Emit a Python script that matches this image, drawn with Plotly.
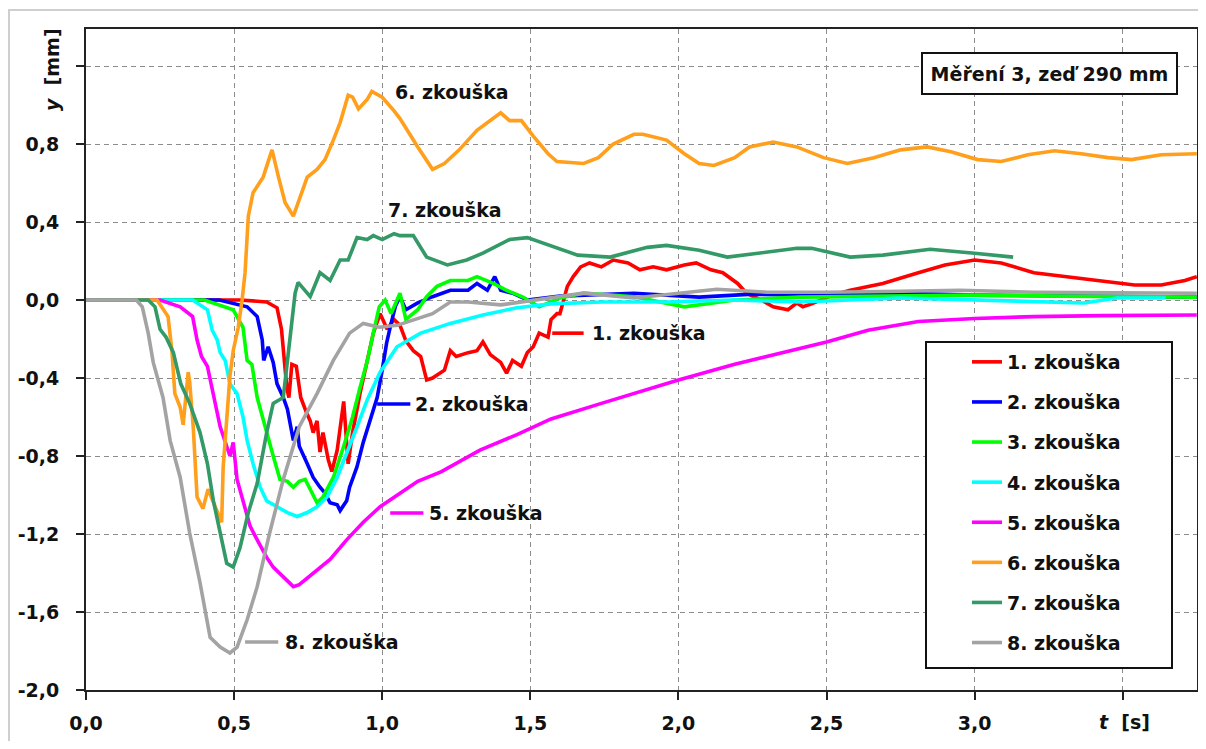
import plotly.graph_objects as go

# ---------------- data ----------------
names = ["1. zkouška", "2. zkouška", "3. zkouška", "4. zkouška",
         "5. zkouška", "6. zkouška", "7. zkouška", "8. zkouška"]
colors = ["#FF0000", "#0000FF", "#00FF00", "#00FFFF",
          "#FF00FF", "#FF9F1C", "#339966", "#A3A3A3"]

t1 = [0, 0.3, 0.52, 0.61, 0.645, 0.66, 0.668, 0.678, 0.685, 0.695, 0.71, 0.725, 0.745, 0.757, 0.767, 0.78,
      0.79, 0.80, 0.818, 0.83, 0.848, 0.87, 0.885, 0.90, 0.925, 0.95, 0.97, 0.993, 1.017, 1.04, 1.06, 1.08,
      1.105, 1.13, 1.15, 1.17, 1.21, 1.23, 1.25, 1.29, 1.32, 1.34, 1.365, 1.40, 1.42, 1.44, 1.47, 1.49, 1.51,
      1.53, 1.56, 1.57, 1.59, 1.60, 1.625, 1.645, 1.67, 1.70, 1.74, 1.78, 1.83, 1.87, 1.915, 1.96, 2.02, 2.06,
      2.11, 2.15, 2.20, 2.23, 2.28, 2.32, 2.37, 2.40, 2.42, 2.45, 2.52, 2.58, 2.69, 2.81, 2.90, 3.0, 3.09,
      3.20, 3.31, 3.43, 3.54, 3.63, 3.71, 3.75]
y1 = [0, 0, 0, -0.01, -0.04, -0.15, -0.30, -0.45, -0.50, -0.33, -0.34, -0.50, -0.58, -0.62, -0.68, -0.62,
      -0.78, -0.68, -0.82, -0.88, -0.77, -0.52, -0.84, -0.68, -0.48, -0.31, -0.17, -0.07, -0.15, -0.10, -0.13, -0.21,
      -0.26, -0.29, -0.41, -0.40, -0.36, -0.26, -0.29, -0.27, -0.26, -0.215, -0.28, -0.32, -0.375, -0.31, -0.34, -0.27, -0.24,
      -0.17, -0.19, -0.10, -0.07, -0.07, 0.07, 0.12, 0.17, 0.19, 0.17, 0.205, 0.19, 0.155, 0.17, 0.155, 0.18, 0.19,
      0.155, 0.14, 0.085, 0.035, 0.0, -0.035, -0.05, -0.015, -0.035, -0.02, 0.025, 0.05, 0.085, 0.14, 0.18, 0.205, 0.19,
      0.14, 0.12, 0.10, 0.077, 0.077, 0.10, 0.12]

t2 = [0, 0.45, 0.544, 0.578, 0.595, 0.60, 0.615, 0.632, 0.645, 0.666, 0.68, 0.69, 0.70, 0.713, 0.72, 0.747,
      0.767, 0.79, 0.807, 0.824, 0.848, 0.858, 0.88, 0.89, 0.915, 0.936, 0.96, 0.983, 1.0, 1.015, 1.03, 1.045,
      1.06, 1.08, 1.12, 1.17, 1.23, 1.29, 1.32, 1.355, 1.38, 1.40, 1.44, 1.49, 1.6, 1.75, 1.85, 2.07, 2.25,
      2.41, 2.75, 3.0, 3.3, 3.6, 3.75]
y2 = [0, 0, -0.035, -0.085, -0.205, -0.31, -0.24, -0.32, -0.43, -0.50, -0.56, -0.63, -0.72, -0.65, -0.75, -0.84,
      -0.91, -0.96, -0.99, -1.04, -1.05, -1.08, -1.03, -0.96, -0.855, -0.73, -0.615, -0.50, -0.36, -0.22, -0.12, -0.03,
      0.017, -0.05, -0.015, 0.017, 0.05, 0.05, 0.085, 0.05, 0.12, 0.05, 0.035, 0.0, 0.02, 0.03, 0.035, 0.015, 0.03,
      0.025, 0.035, 0.025, 0.02, 0.015, 0.015]

t3 = [0, 0.40, 0.497, 0.53, 0.544, 0.56, 0.578, 0.598, 0.62, 0.632, 0.655, 0.68, 0.70, 0.72, 0.74, 0.757,
      0.78, 0.80, 0.835, 0.87, 0.90, 0.925, 0.95, 0.97, 0.99, 1.01, 1.03, 1.06, 1.08, 1.12, 1.15, 1.185,
      1.23, 1.29, 1.32, 1.375, 1.42, 1.475, 1.53, 1.6, 1.68, 1.85, 2.02, 2.19, 2.41, 2.7, 2.98, 3.3, 3.75]
y3 = [0, 0, -0.05, -0.14, -0.31, -0.33, -0.50, -0.615, -0.73, -0.80, -0.92, -0.93, -0.96, -0.93, -0.92, -0.97,
      -1.04, -1.01, -0.91, -0.75, -0.60, -0.45, -0.31, -0.17, -0.035, 0.0, -0.07, 0.035, -0.10, -0.05, 0.017, 0.07,
      0.10, 0.10, 0.12, 0.085, 0.05, 0.015, -0.035, 0.01, 0.035, 0.017, -0.035, 0.0, 0.015, 0.02, 0.025, 0.02, 0.015]

t4 = [0, 0.36, 0.41, 0.426, 0.443, 0.453, 0.47, 0.486, 0.51, 0.53, 0.544, 0.564, 0.588, 0.61, 0.645, 0.68,
      0.713, 0.747, 0.78, 0.814, 0.848, 0.88, 0.915, 0.95, 0.993, 1.05, 1.13, 1.23, 1.34, 1.455, 1.57, 1.74,
      1.96, 2.19, 2.41, 2.75, 2.98, 3.2, 3.37, 3.48, 3.645]
y4 = [0, 0, -0.05, -0.155, -0.205, -0.27, -0.31, -0.43, -0.48, -0.60, -0.72, -0.84, -0.96, -1.03, -1.06, -1.09,
      -1.11, -1.09, -1.06, -1.01, -0.91, -0.79, -0.65, -0.51, -0.37, -0.24, -0.17, -0.12, -0.077, -0.04, -0.02, -0.01,
      -0.01, 0.0, -0.01, 0.01, 0.0, -0.005, -0.015, 0.01, 0.01]

t5 = [0, 0.25, 0.318, 0.36, 0.375, 0.39, 0.41, 0.43, 0.453, 0.486, 0.497, 0.51, 0.53, 0.554, 0.578, 0.61,
      0.632, 0.666, 0.70, 0.72, 0.767, 0.824, 0.88, 0.936, 0.993, 1.05, 1.12, 1.2, 1.33, 1.455, 1.57, 1.74,
      1.85, 2.0, 2.19, 2.41, 2.5, 2.64, 2.81, 3.0, 3.2, 3.43, 3.75]
y5 = [0, 0, -0.035, -0.085, -0.205, -0.29, -0.34, -0.48, -0.65, -0.80, -0.73, -0.92, -1.03, -1.16, -1.23, -1.32,
      -1.37, -1.42, -1.47, -1.46, -1.40, -1.33, -1.23, -1.14, -1.06, -1.0, -0.93, -0.88, -0.77, -0.69, -0.61, -0.53,
      -0.48, -0.41, -0.33, -0.25, -0.215, -0.155, -0.11, -0.095, -0.085, -0.08, -0.077]

t6 = [0, 0.24, 0.277, 0.29, 0.30, 0.318, 0.328, 0.345, 0.35, 0.362, 0.375, 0.395, 0.412, 0.44, 0.458, 0.463,
      0.475, 0.486, 0.497, 0.514, 0.527, 0.537, 0.548, 0.564, 0.598, 0.628, 0.65, 0.672, 0.70, 0.72, 0.747, 0.78,
      0.807, 0.835, 0.858, 0.885, 0.90, 0.92, 0.95, 0.965, 1.0, 1.04, 1.06, 1.12, 1.17, 1.21, 1.26, 1.32,
      1.40, 1.43, 1.47, 1.51, 1.56, 1.59, 1.68, 1.73, 1.78, 1.85, 1.88, 1.96, 2.02, 2.07, 2.12, 2.19, 2.24,
      2.32, 2.40, 2.49, 2.57, 2.66, 2.75, 2.84, 2.92, 3.01, 3.09, 3.18, 3.27, 3.36, 3.45, 3.53, 3.63, 3.75]
y6 = [0, 0, -0.085, -0.26, -0.48, -0.55, -0.64, -0.37, -0.42, -0.65, -1.01, -1.07, -0.97, -1.08, -1.14, -0.86,
      -0.60, -0.39, -0.26, -0.14, 0.0, 0.14, 0.43, 0.55, 0.63, 0.77, 0.63, 0.50, 0.43, 0.51, 0.63, 0.67,
      0.72, 0.82, 0.91, 1.05, 1.04, 0.98, 1.03, 1.07, 1.04, 0.97, 0.93, 0.785, 0.67, 0.70, 0.77, 0.87,
      0.96, 0.92, 0.92, 0.84, 0.75, 0.71, 0.70, 0.73, 0.80, 0.85, 0.85, 0.82, 0.75, 0.70, 0.69, 0.73, 0.785,
      0.81, 0.785, 0.73, 0.70, 0.73, 0.77, 0.785, 0.76, 0.72, 0.71, 0.745, 0.765, 0.75, 0.73, 0.72, 0.745, 0.75]

t7 = [0, 0.21, 0.233, 0.25, 0.27, 0.295, 0.32, 0.35, 0.385, 0.41, 0.43, 0.453, 0.475, 0.497, 0.52, 0.548,
      0.578, 0.61, 0.632, 0.666, 0.69, 0.706, 0.716, 0.757, 0.79, 0.824, 0.858, 0.885, 0.915, 0.949, 0.97, 1.0,
      1.04, 1.06, 1.105, 1.15, 1.22, 1.285, 1.34, 1.43, 1.49, 1.545, 1.66, 1.77, 1.895, 1.96, 2.07, 2.165,
      2.30, 2.40, 2.45, 2.58, 2.69, 2.85, 3.0, 3.13]
y7 = [0, 0, -0.035, -0.15, -0.19, -0.27, -0.43, -0.53, -0.68, -0.84, -1.03, -1.195, -1.35, -1.37, -1.27, -1.09,
      -0.94, -0.68, -0.53, -0.50, -0.17, 0.035, 0.09, 0.017, 0.14, 0.10, 0.205, 0.205, 0.32, 0.31, 0.33, 0.31,
      0.34, 0.33, 0.33, 0.22, 0.18, 0.205, 0.24, 0.31, 0.32, 0.29, 0.23, 0.22, 0.27, 0.28, 0.255, 0.22,
      0.245, 0.265, 0.265, 0.22, 0.23, 0.26, 0.24, 0.22]

t8 = [0, 0.17, 0.19, 0.21, 0.227, 0.26, 0.284, 0.318, 0.35, 0.385, 0.419, 0.453, 0.486, 0.51, 0.544, 0.578,
      0.62, 0.666, 0.72, 0.78, 0.835, 0.89, 0.936, 0.99, 1.05, 1.17, 1.23, 1.29, 1.40, 1.51, 1.68, 1.85,
      2.02, 2.13, 2.30, 2.5, 2.75, 2.95, 3.2, 3.5, 3.75]
y8 = [0, 0, -0.035, -0.17, -0.32, -0.50, -0.72, -0.91, -1.195, -1.45, -1.73, -1.78, -1.81, -1.78, -1.64, -1.47,
      -1.195, -0.92, -0.65, -0.48, -0.31, -0.17, -0.12, -0.14, -0.13, -0.07, -0.01, -0.01, -0.025, 0.0, 0.035, 0.01,
      0.035, 0.055, 0.04, 0.04, 0.045, 0.05, 0.04, 0.035, 0.035]

ts = [t1, t2, t3, t4, t5, t6, t7, t8]
ys = [y1, y2, y3, y4, y5, y6, y7, y8]

# inline labels: text, colour index of leader (None = no leader), leader start/end t, label position
label_texts = ["1. zkouška", "2. zkouška", "5. zkouška", "8. zkouška", "6. zkouška", "7. zkouška"]
label_series = [0, 1, 4, 7, None, None]
label_lead_t0 = [1.574, 0.983, 1.027, 0.537, None, None]
label_lead_t1 = [1.68, 1.095, 1.139, 0.649, None, None]
label_x = [1.70, 1.105, 1.152, 0.666, 1.036, 1.012]
label_y = [-0.17, -0.533, -1.092, -1.754, 1.067, 0.46]

x_tickvals = [0, 0.5, 1.0, 1.5, 2.0, 2.5, 3.0, 3.5]
x_ticktext = ["0,0", "0,5", "1,0", "1,5", "2,0", "2,5", "3,0", ""]
y_tickvals = [-2.0, -1.6, -1.2, -0.8, -0.4, 0.0, 0.4, 0.8, 1.2]
y_ticktext = ["-2,0", "-1,6", "-1,2", "-0,8", "-0,4", "0,0", "0,4", "0,8", ""]

box_text = "Měření 3, zeď 290 mm"

# ---------------- layout geometry ----------------
# the page body has an 8 px margin, so the figure starts at screen (8, 8)
OX, OY = 8, 8
W, H = 1190, 733
ML, MR, MT, MB = 78, 1, 21, 51
PW, PH = W - ML - MR, H - MT - MB      # 1111 x 661


def px(sx):   # screen x -> paper x
    return (sx - OX - ML) / PW


def py(sy):   # screen y -> paper y
    return (OY + MT + PH - sy) / PH


FONT = "DejaVu Sans"
fnt = dict(family=FONT, size=19, color="#111111", weight="bold")

fig = go.Figure()
for i in range(8):
    fig.add_trace(go.Scatter(
        x=ts[i], y=ys[i], mode="lines", name=names[i],
        legendgroup=names[i],
        line=dict(color=colors[i], width=3.6),
    ))

annotations = []
shapes = []
for k, txt in enumerate(label_texts):
    si = label_series[k]
    if si is not None:
        shapes.append(dict(type="line", xref="x", yref="y",
                           x0=label_lead_t0[k], x1=label_lead_t1[k],
                           y0=label_y[k], y1=label_y[k],
                           line=dict(color=colors[si], width=3.6)))
    annotations.append(dict(text=txt, x=label_x[k], y=label_y[k], xref="x", yref="y",
                            xanchor="left", yanchor="middle", showarrow=False, font=fnt))

annotations.append(dict(text=box_text, xref="paper", yref="paper",
                        x=px(1049.5), y=py(73.5), xanchor="center", yanchor="middle",
                        showarrow=False, font=fnt, bgcolor="white",
                        bordercolor="#111111", borderwidth=2, borderpad=2,
                        width=249, height=35))
annotations.append(dict(text="<i>y</i>  [mm]", xref="paper", yref="paper",
                        x=px(52), y=py(70), textangle=-90, showarrow=False,
                        xanchor="center", yanchor="middle", font=fnt))
annotations.append(dict(text="<i>t</i>  [s]", xref="paper", yref="paper",
                        x=px(1124), y=py(722), showarrow=False,
                        xanchor="center", yanchor="middle", font=fnt))

# legend frame
shapes.append(dict(type="rect", xref="paper", yref="paper",
                   x0=px(926), x1=px(1172), y0=py(668), y1=py(342),
                   fillcolor="white", line=dict(color="#111111", width=2), layer="above"))
# outer light frame
shapes.append(dict(type="rect", xref="paper", yref="paper",
                   x0=px(9), x1=px(1260), y0=py(800), y1=py(10),
                   fillcolor="rgba(0,0,0,0)", line=dict(color="#CFCFCF", width=2), layer="below"))

axis_common = dict(showline=True, linecolor="#222222", linewidth=2, mirror=True,
                   ticks="outside", ticklen=8, tickwidth=2, tickcolor="#222222",
                   showgrid=True, gridcolor="#8C8C8C", gridwidth=1, griddash="5px,4px",
                   zeroline=False, tickfont=fnt, automargin=False)

fig.update_layout(
    width=W, height=H,
    margin=dict(l=ML, r=MR, t=MT, b=MB, autoexpand=False),
    paper_bgcolor="white", plot_bgcolor="white",
    showlegend=True,
    legend=dict(x=px(967), y=py(343), xanchor="left", yanchor="top",
                bgcolor="rgba(0,0,0,0)", borderwidth=0, font=fnt,
                tracegroupgap=12.4, itemwidth=30),
    xaxis=dict(range=[0, PW / 296.2], tickvals=x_tickvals, ticktext=x_ticktext,
               ticklabelstandoff=7, **axis_common),
    yaxis=dict(range=[-2.0, -2.0 + PH / 195.0], tickvals=y_tickvals, ticktext=y_ticktext,
               ticklabelstandoff=13, **axis_common),
    annotations=annotations,
    shapes=shapes,
)

fig.write_html("out.html")
